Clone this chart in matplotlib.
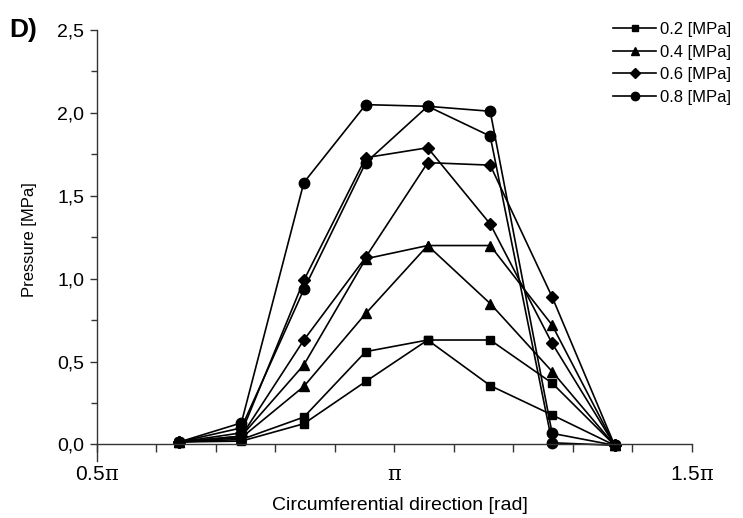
import numpy as np
import matplotlib
matplotlib.use('Agg')
import matplotlib.pyplot as plt
from matplotlib.lines import Line2D
from matplotlib.ticker import MultipleLocator

plt.rcParams['font.family'] = ['Liberation Sans', 'DejaVu Sans']
plt.rcParams['mathtext.fontset'] = 'custom'
plt.rcParams['mathtext.rm'] = 'DejaVu Serif'
plt.rcParams['mathtext.it'] = 'DejaVu Serif'

# angular positions of the measuring points, in units of pi
x_pi = [0.639, 0.743, 0.848, 0.952, 1.056, 1.161, 1.265, 1.370]

# pressure [MPa], two curves per inlet pressure
p02_a = [0.015, 0.03, 0.165, 0.56, 0.63, 0.63, 0.37, -0.005]
p02_b = [0.015, 0.02, 0.125, 0.38, 0.63, 0.355, 0.178, -0.005]
p04_a = [0.015, 0.05, 0.48, 1.12, 1.20, 1.20, 0.72, -0.005]
p04_b = [0.015, 0.04, 0.35, 0.79, 1.20, 0.85, 0.44, -0.005]
p06_a = [0.015, 0.07, 0.99, 1.73, 1.79, 1.33, 0.61, -0.005]
p06_b = [0.015, 0.05, 0.63, 1.13, 1.70, 1.685, 0.89, -0.005]
p08_a = [0.015, 0.13, 1.58, 2.05, 2.04, 2.01, 0.067, -0.005]
p08_b = [0.015, 0.10, 0.935, 1.70, 2.04, 1.86, 0.01, -0.005]

labels = ['0.2 [MPa]', '0.4 [MPa]', '0.6 [MPa]', '0.8 [MPa]']
markers = ['s', '^', 'D', 'o']
msizes = [5.5, 7, 6, 7.5]
series = [(p02_a, p02_b), (p04_a, p04_b), (p06_a, p06_b), (p08_a, p08_b)]

x = np.array(x_pi) * np.pi

fig = plt.figure(figsize=(7.43, 5.18), dpi=100)
ax = fig.add_axes([0.1301, 0.110, 0.8013, 0.832])

for (ya, yb), m, ms in zip(series, markers, msizes):
    for y in (ya, yb):
        ax.plot(x, y, color='black', lw=1.2, marker=m, ms=ms, mfc='black', mec='black')

ax.set_xlim(0.5 * np.pi, 1.5 * np.pi)
ax.set_ylim(-0.1, 2.5)

ax.spines['top'].set_visible(False)
ax.spines['right'].set_visible(False)
ax.spines['bottom'].set_position(('data', 0))
for s in ('left', 'bottom'):
    ax.spines[s].set_linewidth(1.0)
    ax.spines[s].set_color('#333333')

ax.set_xticks([0.5 * np.pi, np.pi, 1.5 * np.pi])
ax.set_xticklabels(['0.5$\\pi$', '$\\pi$', '1.5$\\pi$'])
ax.xaxis.set_minor_locator(MultipleLocator(0.1 * np.pi))
ax.set_yticks([0, 0.5, 1.0, 1.5, 2.0, 2.5])
ax.set_yticklabels(['0,0', '0,5', '1,0', '1,5', '2,0', '2,5'])
ax.yaxis.set_minor_locator(MultipleLocator(0.25))

ax.tick_params(axis='x', which='both', direction='out', length=6, width=1, pad=9,
               labelsize=15, color='#333333')
ax.tick_params(axis='y', which='major', direction='out', length=5, width=1, pad=4,
               labelsize=14, color='#333333')
ax.tick_params(axis='y', which='minor', direction='out', length=4, width=1, color='#333333')

fig.text(0.538, 0.025, 'Circumferential direction [rad]', ha='center', va='center', fontsize=14)
fig.text(0.040, 0.537, 'Pressure [MPa]', rotation=90, ha='center', va='center', fontsize=12)
fig.text(0.012, 0.942, 'D)', ha='left', va='center', fontsize=19, fontweight='bold')

handles = [Line2D([], [], color='black', lw=1.2, marker=m, ms=ms * 0.8)
           for m, ms in zip(markers, msizes)]
ax.legend(handles, labels, loc='upper right', bbox_to_anchor=(0.995, 0.973),
          bbox_transform=fig.transFigure, frameon=False, fontsize=12,
          handlelength=2.6, handletextpad=0.2, labelspacing=0.45, borderpad=0)

fig.savefig('out.png', dpi=100)
plt.close(fig)
